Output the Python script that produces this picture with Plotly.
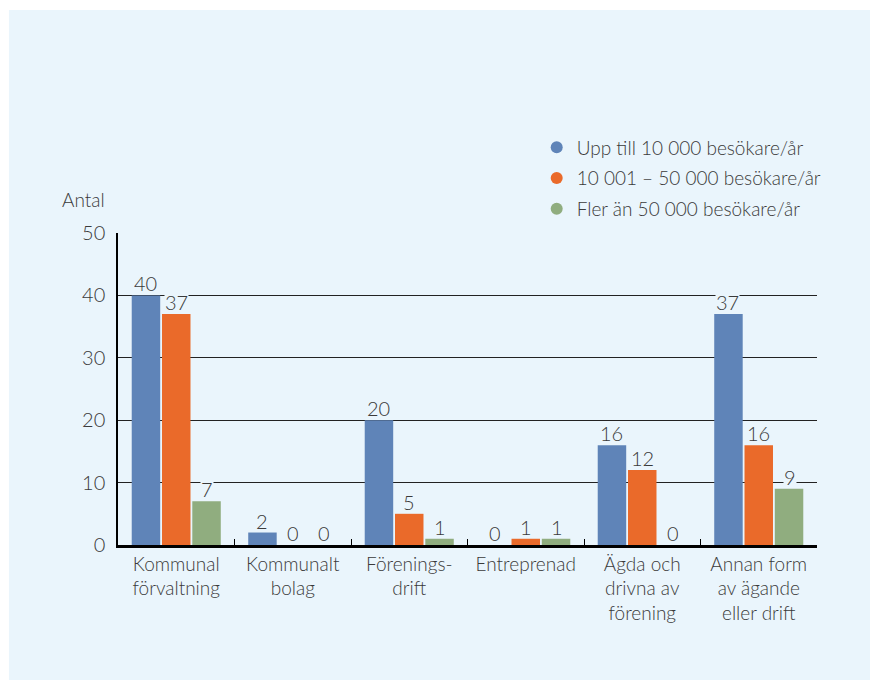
import plotly.graph_objects as go

kategorier = [
    "Kommunal<br>förvaltning",
    "Kommunalt<br>bolag",
    "Förenings-<br>drift",
    "Entreprenad",
    "Ägda och<br>drivna av<br>förening",
    "Annan form<br>av ägande<br>eller drift",
]
serier = [
    "Upp till 10 000 besökare/år",
    "10 001 – 50 000 besökare/år",
    "Fler än 50 000 besökare/år",
]
upp_till_10000 = [40, 2, 20, 0, 16, 37]
mellan_10001_50000 = [37, 0, 5, 1, 12, 16]
fler_an_50000 = [7, 0, 1, 1, 0, 9]
y_ticks = [0, 10, 20, 30, 40, 50]

FARGER = ["#5F84B8", "#EA6A2A", "#90AD7F"]
BG = "#EAF5FC"
TEXT = "#3A3A3A"
FONT = "Lato, sans-serif"
XSHIFT = [-31, 0, 31]  # pixelförskjutning för värdeetiketter per serie

fig = go.Figure()
for i, (namn, varden) in enumerate(zip(serier, [upp_till_10000, mellan_10001_50000, fler_an_50000])):
    fig.add_trace(go.Bar(
        x=kategorier, y=varden, name=namn,
        marker=dict(color=FARGER[i], line=dict(width=0)),
        showlegend=False, hoverinfo="skip",
    ))
    # legend med runda markörer
    fig.add_trace(go.Scatter(
        x=[None], y=[None], mode="markers", name=namn,
        marker=dict(symbol="circle", size=16, color=FARGER[i]),
        legendgroup=f"g{i}",
    ))
    for kat, v in zip(kategorier, varden):
        fig.add_annotation(
            x=kat, y=v, text=str(v), showarrow=False,
            yanchor="bottom", yshift=2, xshift=XSHIFT[i],
            bgcolor=BG, borderpad=0, height=19, valign="middle",
            font=dict(family=FONT, size=20, color=TEXT, weight=300),
        )

# "Antal"
fig.add_annotation(
    xref="paper", yref="paper", x=-0.049, y=1.106, text="Antal",
    showarrow=False, xanchor="center", yanchor="middle",
    font=dict(family=FONT, size=19, color=TEXT, weight=300),
)

# vit kant uppe och till vänster
fig.add_shape(type="rect", xref="paper", yref="paper", x0=-0.2, x1=-0.156, y0=-0.5, y1=1.8,
              fillcolor="white", line=dict(width=0), layer="below")
fig.add_shape(type="rect", xref="paper", yref="paper", x0=-0.2, x1=1.2, y0=1.715, y1=1.8,
              fillcolor="white", line=dict(width=0), layer="below")

fig.update_layout(
    width=870, height=680,
    margin=dict(l=118, r=53, t=233, b=135),
    paper_bgcolor=BG, plot_bgcolor=BG,
    barmode="group", bargap=0.22, bargroupgap=0.06,
    font=dict(family=FONT, size=19, color=TEXT, weight=300),
    legend=dict(
        x=0.599, y=1.335, xanchor="left", yanchor="top",
        bgcolor="rgba(0,0,0,0)", font=dict(family=FONT, size=19, color=TEXT, weight=300),
        tracegroupgap=3, itemsizing="constant",
    ),
    xaxis=dict(
        tickson="boundaries", ticks="inside", ticklen=6, tickcolor="#000",
        showline=True, linecolor="#000", linewidth=2.5,
        showgrid=False, tickfont=dict(family=FONT, size=19, color=TEXT, weight=300),
        fixedrange=True,
    ),
    yaxis=dict(
        range=[0, 50], tickvals=y_ticks, ticks="",
        showline=True, linecolor="#000", linewidth=1.5,
        showgrid=True, gridcolor="#222", gridwidth=1,
        zeroline=False, ticklabelstandoff=7, fixedrange=True,
        tickfont=dict(family=FONT, size=20, color=TEXT, weight=300),
    ),
)

fig.write_html(
    "out.html",
    config={"displayModeBar": False},
    post_script="document.body.style.margin='0';document.body.style.overflow='hidden';",
)
